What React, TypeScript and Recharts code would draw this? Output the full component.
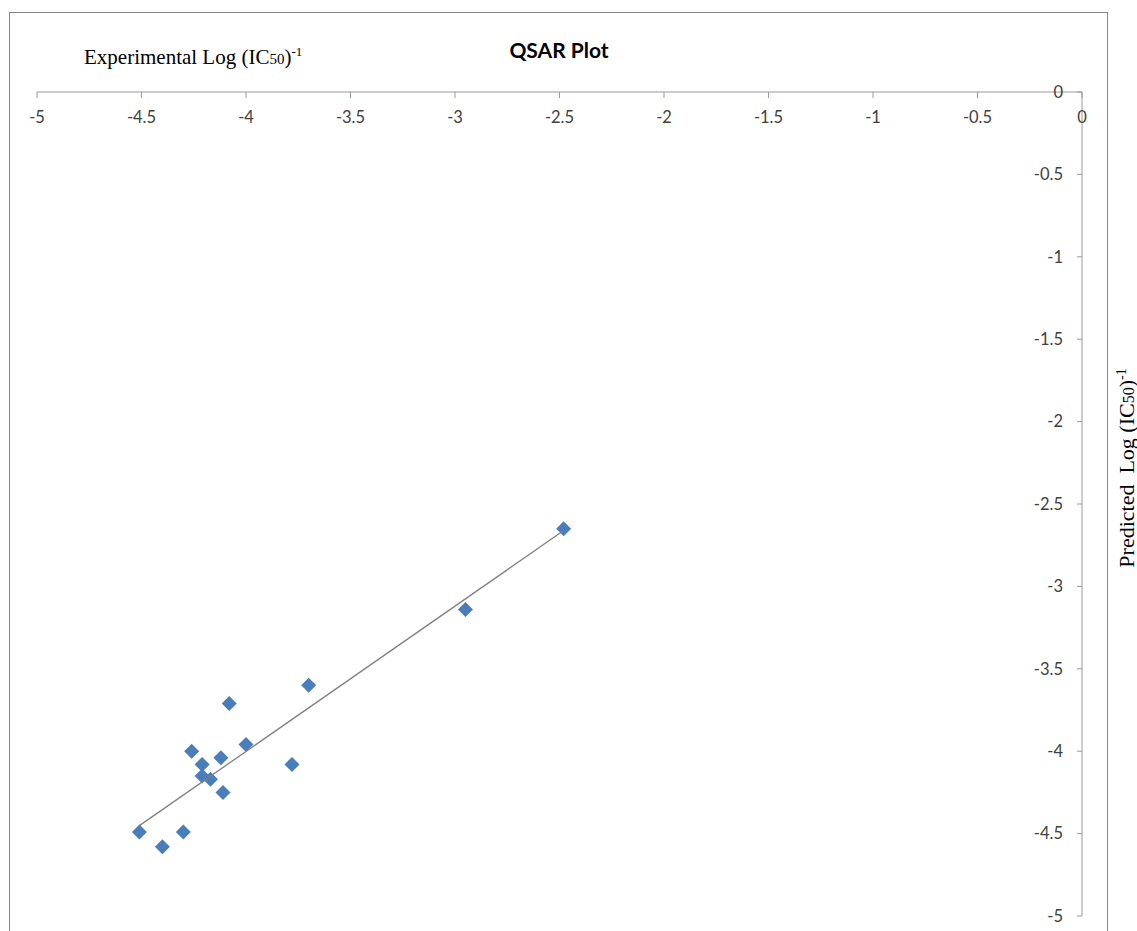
import React from "react";
import { ScatterChart, Scatter, XAxis, YAxis } from "recharts";

// values
const experimental = [-4.51, -4.4, -4.3, -4.26, -4.21, -4.21, -4.17, -4.12, -4.11, -4.08, -4.0, -3.78, -3.7, -2.95, -2.48];
const predicted = [-4.49, -4.58, -4.49, -4.0, -4.08, -4.15, -4.17, -4.04, -4.25, -3.71, -3.96, -4.08, -3.6, -3.14, -2.65];

const majorTicks = [-5, -4.5, -4, -3.5, -3, -2.5, -2, -1.5, -1, -0.5, 0];
const minorTicks = [
  -4.9, -4.8, -4.7, -4.6, -4.4, -4.3, -4.2, -4.1, -3.9, -3.8, -3.7, -3.6,
  -3.4, -3.3, -3.2, -3.1, -2.9, -2.8, -2.7, -2.6, -2.4, -2.3, -2.2, -2.1,
  -1.9, -1.8, -1.7, -1.6, -1.4, -1.3, -1.2, -1.1, -0.9, -0.8, -0.7, -0.6,
  -0.4, -0.3, -0.2, -0.1,
];

const points = experimental.map((x, i) => ({ x, y: predicted[i] }));

// linear trendline (least squares), drawn between the smallest and largest x
const n = experimental.length;
const mx = experimental.reduce((a, b) => a + b, 0) / n;
const my = predicted.reduce((a, b) => a + b, 0) / n;
let sxy = 0;
let sxx = 0;
experimental.forEach((x, i) => {
  sxy += (x - mx) * (predicted[i] - my);
  sxx += (x - mx) * (x - mx);
});
const slope = sxy / sxx;
const xMin = Math.min(...experimental);
const xMax = Math.max(...experimental);
const trend = [
  { x: xMin, y: my + slope * (xMin - mx) },
  { x: xMax, y: my + slope * (xMax - mx) },
];

const Diamond = (props: any) => {
  const { cx, cy } = props;
  const r = 7.5;
  return (
    <path
      d={`M${cx},${cy - r}L${cx + r},${cy}L${cx},${cy + r}L${cx - r},${cy}Z`}
      fill="#4A7EBB"
    />
  );
};

const tickStyle = { fontSize: 16.5, fill: "#404040", fontFamily: "Lato, sans-serif" };
const serif = "'Liberation Serif', 'Times New Roman', serif";

const App = () => {
  return (
    <div
      style={{
        position: "absolute",
        left: 0,
        top: 0,
        width: 1137,
        height: 931,
        overflow: "hidden",
        background: "#fff",
      }}
    >
      <div
        style={{
          position: "absolute",
          left: 9,
          top: 12,
          width: 1099,
          height: 1000,
          border: "1px solid #868686",
          boxSizing: "border-box",
        }}
      />
      <div
        style={{
          position: "absolute",
          left: 0,
          top: 37,
          width: 1118,
          textAlign: "center",
          fontFamily: "Lato, sans-serif",
          fontWeight: 700,
          fontSize: 21,
          lineHeight: "26px",
          color: "#000",
        }}
      >
        QSAR Plot
      </div>
      <div
        style={{
          position: "absolute",
          left: 84,
          top: 45,
          fontFamily: serif,
          fontSize: 21,
          whiteSpace: "nowrap",
          lineHeight: "24px",
          color: "#000",
        }}
      >
        Experimental Log (IC<span style={{ fontSize: 15 }}>50</span>)
        <span style={{ fontSize: 13, position: "relative", top: -8 }}>-1</span>
      </div>
      <div
        style={{
          position: "absolute",
          left: 1128,
          top: 468,
          transform: "translate(-50%, -50%) rotate(-90deg)",
          fontFamily: serif,
          fontSize: 22,
          whiteSpace: "nowrap",
          lineHeight: "24px",
          color: "#000",
        }}
      >
        Predicted&nbsp; Log (IC<span style={{ fontSize: 16 }}>50</span>)
        <span style={{ fontSize: 14, position: "relative", top: -8 }}>-1</span>
      </div>
      <ScatterChart
        width={1137}
        height={931}
        margin={{ top: 92, right: 55, bottom: 15, left: 37 }}
        style={{ position: "absolute", left: 0, top: 0 }}
      >
        <XAxis
          xAxisId="main"
          type="number"
          dataKey="x"
          domain={[-5, 0]}
          ticks={majorTicks}
          orientation="top"
          mirror
          tickSize={6}
          tickMargin={13}
          stroke="#9a9a9a"
          tick={tickStyle}
          allowDataOverflow
        />
        <XAxis
          xAxisId="minor"
          type="number"
          dataKey="x"
          domain={[-5, 0]}
          ticks={minorTicks}
          orientation="top"
          mirror
          tickSize={3}
          axisLine={false}
          stroke="#9a9a9a"
          tick={false}
          allowDataOverflow
        />
        <YAxis
          type="number"
          dataKey="y"
          domain={[-5, 0]}
          ticks={majorTicks}
          orientation="right"
          mirror
          tickSize={5}
          tickMargin={14}
          stroke="#9a9a9a"
          tick={tickStyle}
          allowDataOverflow
        />
        <Scatter
          xAxisId="main"
          data={points}
          shape={Diamond}
          isAnimationActive={false}
        />
        <Scatter
          xAxisId="minor"
          data={trend}
          line={{ stroke: "#7f7f7f", strokeWidth: 1.3 }}
          shape={() => null}
          isAnimationActive={false}
        />
      </ScatterChart>
    </div>
  );
};

export default App;
